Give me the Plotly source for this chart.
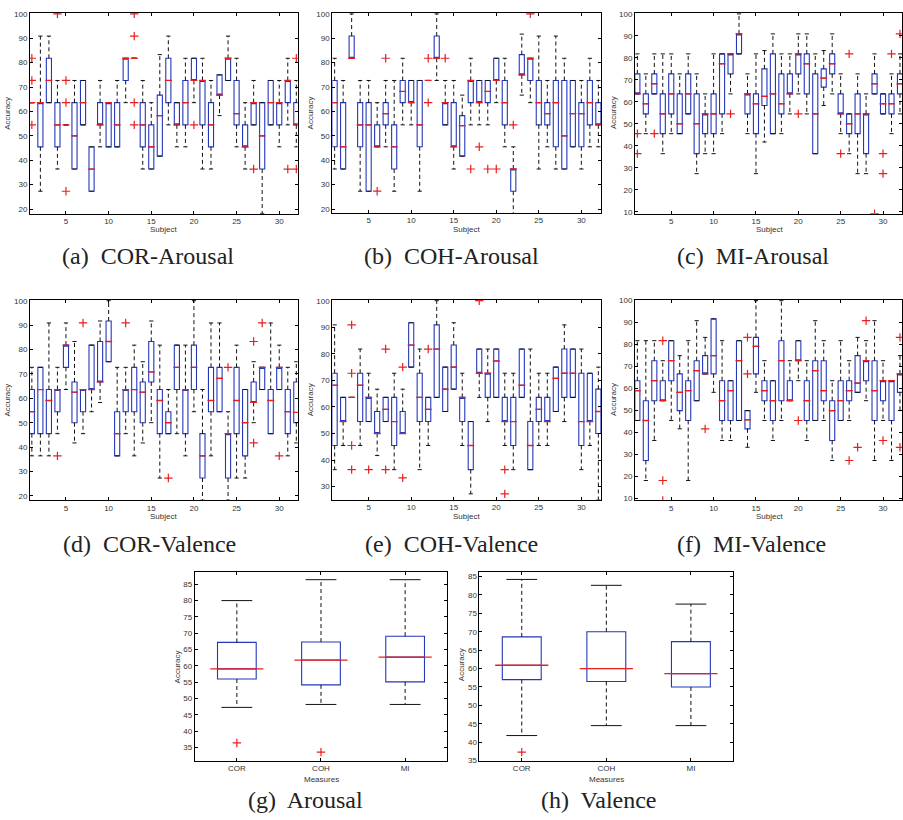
import plotly.graph_objects as go

subjects = list(range(1, 33))
measures = ["COR", "COH", "MI"]

# (a) COR-Arousal
a_q1 = [63.6,45.5,63.6,45.5,54.5,36.4,54.5,27.3,54.5,45.5,45.5,72.7,81.8,45.5,36.4,41.7,63.6,54.5,54.5,72.7,54.5,45.5,66.7,72.7,54.5,45.5,54.5,36.4,54.5,54.5,63.6,54.5]
a_med = [63.6,63.6,72.7,54.5,54.5,50,63.6,36.4,54.5,63.6,54.5,81.8,81.8,54.5,45.5,58.3,72.7,54.5,63.6,72.7,72.7,54.5,66.7,81.8,59.1,45.5,63.6,50,63.6,63.6,72.7,54.5]
a_q3 = [63.6,63.6,81.8,63.6,54.5,63.6,72.7,45.5,63.6,63.6,63.6,81.8,81.8,63.6,54.5,66.7,81.8,63.6,72.7,81.8,72.7,63.6,75,81.8,72.7,54.5,63.6,63.6,72.7,63.6,72.7,63.6]
a_lo = [63.6,27.3,63.6,36.4,54.5,36.4,54.5,27.3,45.5,45.5,45.5,63.6,81.8,36.4,36.4,41.7,54.5,45.5,45.5,63.6,36.4,36.4,58.3,72.7,45.5,36.4,54.5,18.2,54.5,45.5,54.5,45.5]
a_hi = [63.6,90.9,90.9,72.7,54.5,72.7,72.7,45.5,72.7,63.6,72.7,81.8,81.8,72.7,63.6,83.3,90.9,63.6,81.8,81.8,81.8,72.7,75,90.9,81.8,63.6,72.7,63.6,72.7,72.7,81.8,72.7]
a_out_x = [1,1,1,4,5,5,5,13,13,13,13,20,27,31,32,32]
a_out_y = [81.8,72.7,54.5,100,72.7,63.6,27.3,100,90.9,63.6,54.5,54.5,36.4,36.4,81.8,36.4]

# (b) COH-Arousal
b_q1 = [45.5,36.4,81.8,45.5,27.3,45.5,54.5,36.4,63.6,63.6,45.5,72.7,81.8,54.5,45.5,41.7,63.6,63.6,63.6,72.7,54.5,27.3,75,72.7,54.5,54.5,45.5,36.4,45.5,45.5,54.5,54.5]
b_med = [63.6,45.5,81.8,54.5,54.5,45.5,59.1,45.5,68.2,63.6,54.5,72.7,81.8,63.6,45.5,54.2,72.7,63.6,68.2,72.7,63.6,36.4,75,81.8,63.6,59.1,63.6,50,59.1,59.1,63.6,54.5]
b_q3 = [72.7,63.6,90.9,63.6,63.6,54.5,63.6,54.5,72.7,72.7,72.7,72.7,90.9,63.6,63.6,58.3,72.7,72.7,72.7,81.8,72.7,36.4,83.3,81.8,72.7,63.6,72.7,72.7,72.7,63.6,72.7,63.6]
b_lo = [36.4,36.4,81.8,27.3,27.3,45.5,45.5,27.3,54.5,54.5,27.3,72.7,72.7,54.5,36.4,41.7,54.5,54.5,54.5,63.6,45.5,18.2,66.7,63.6,36.4,45.5,36.4,36.4,45.5,36.4,45.5,45.5]
b_hi = [81.8,72.7,100,72.7,72.7,63.6,72.7,72.7,81.8,72.7,72.7,72.7,100,72.7,72.7,66.7,81.8,72.7,72.7,81.8,81.8,45.5,91.7,81.8,90.9,72.7,90.9,81.8,72.7,72.7,81.8,72.7]
b_out_x = [6,7,12,12,14,17,18,19,20,22,24]
b_out_y = [27.3,81.8,81.8,63.6,81.8,36.4,45.5,36.4,36.4,54.5,100]

# (c) MI-Arousal
c_q1 = [63.6,54.5,63.6,45.5,54.5,45.5,54.5,36.4,45.5,45.5,54.5,72.7,81.8,54.5,45.5,58.3,45.5,54.5,63.6,72.7,63.6,36.4,66.7,72.7,54.5,45.5,45.5,36.4,63.6,54.5,54.5,63.6]
c_med = [63.6,59.1,68.2,54.5,63.6,50,63.6,50,54.5,54.5,77.3,81.8,90.9,63.6,59.1,62.5,63.6,59.1,63.6,81.8,77.3,54.5,70.8,77.3,54.5,50,54.5,54.5,68.2,59.1,59.1,68.2]
c_q3 = [72.7,63.6,72.7,63.6,72.7,63.6,72.7,63.6,54.5,63.6,81.8,81.8,90.9,63.6,63.6,75,81.8,72.7,72.7,81.8,81.8,72.7,75,81.8,63.6,54.5,63.6,54.5,72.7,63.6,63.6,72.7]
c_lo = [63.6,45.5,63.6,36.4,45.5,45.5,54.5,27.3,36.4,36.4,45.5,63.6,81.8,45.5,27.3,41.7,45.5,45.5,54.5,63.6,54.5,36.4,58.3,63.6,45.5,36.4,27.3,27.3,63.6,54.5,45.5,54.5]
c_hi = [81.8,72.7,81.8,81.8,81.8,72.7,81.8,72.7,63.6,81.8,81.8,81.8,100,72.7,81.8,83.3,90.9,81.8,81.8,90.9,90.9,81.8,83.3,90.9,72.7,54.5,72.7,63.6,81.8,63.6,72.7,81.8]
c_out_x = [1,1,3,12,20,25,26,29,30,30,31,32]
c_out_y = [45.5,36.4,45.5,54.5,54.5,36.4,81.8,9.1,36.4,27.3,81.8,90.9]

# (d) COR-Valence
d_q1 = [45.5,45.5,45.5,54.5,72.7,50,54.5,63.6,66.7,75,36.4,54.5,54.5,50,66.7,45.5,45.5,63.6,45.5,63.6,27.3,54.5,54.5,27.3,45.5,36.4,58.3,63.6,45.5,63.6,45.5,50]
d_med = [54.5,63.6,59.1,63.6,81.8,62.5,63.6,63.6,66.7,83.3,45.5,63.6,63.6,62.5,70.8,59.1,50,72.7,63.6,72.7,36.4,59.1,68.2,45.5,59.1,50,58.3,72.7,59.1,72.7,54.5,54.2]
d_q3 = [63.6,72.7,63.6,63.6,81.8,66.7,63.6,81.8,83.3,91.7,54.5,63.6,72.7,66.7,83.3,63.6,54.5,81.8,63.6,81.8,45.5,72.7,72.7,45.5,72.7,63.6,66.7,72.7,63.6,72.7,63.6,66.7]
d_lo = [36.4,36.4,36.4,45.5,63.6,41.7,45.5,54.5,58.3,75,36.4,45.5,36.4,41.7,50,27.3,45.5,45.5,36.4,54.5,18.2,36.4,54.5,18.2,27.3,27.3,50,63.6,45.5,63.6,36.4,41.7]
d_hi = [72.7,72.7,90.9,72.7,90.9,83.3,63.6,81.8,91.7,100,72.7,72.7,81.8,75,91.7,81.8,63.6,81.8,81.8,100,63.6,90.9,90.9,54.5,81.8,63.6,75,72.7,90.9,81.8,72.7,75]
d_out_x = [4,7,12,17,24,27,27,28,30]
d_out_y = [36.4,90.9,90.9,27.3,72.7,83.3,41.7,90.9,36.4]

# (e) COH-Valence
e_q1 = [45.5,54.5,63.6,54.5,54.5,50,54.5,45.5,50,75,54.5,54.5,63.6,58.3,66.7,54.5,36.4,72.7,63.6,63.6,54.5,45.5,63.6,36.4,54.5,54.5,58.3,63.6,63.6,45.5,54.5,50]
e_med = [68.2,54.5,63.6,68.2,63.6,50,59.1,54.5,50,83.3,63.6,59.1,81.8,66.7,75,63.6,45.5,72.7,72.7,77.3,54.5,54.5,68.2,45.5,59.1,54.5,70.8,72.7,72.7,54.5,54.5,58.3]
e_q3 = [72.7,63.6,63.6,72.7,63.6,58.3,63.6,63.6,58.3,91.7,72.7,63.6,90.9,75,83.3,63.6,54.5,81.8,72.7,81.8,63.6,63.6,81.8,54.5,63.6,63.6,75,81.8,81.8,72.7,72.7,66.7]
e_lo = [36.4,45.5,63.6,45.5,54.5,41.7,54.5,36.4,50,75,36.4,45.5,63.6,58.3,66.7,45.5,27.3,63.6,54.5,63.6,45.5,36.4,63.6,36.4,45.5,45.5,58.3,54.5,63.6,36.4,45.5,25]
e_hi = [90.9,63.6,63.6,81.8,72.7,66.7,63.6,72.7,66.7,91.7,81.8,63.6,100,75,91.7,72.7,54.5,81.8,81.8,81.8,72.7,72.7,81.8,81.8,72.7,72.7,75,90.9,81.8,81.8,72.7,75]
e_out_x = [3,3,3,3,5,7,7,9,9,12,18,21,21]
e_out_y = [90.9,72.7,45.5,36.4,36.4,81.8,36.4,75,33.3,81.8,100,36.4,27.3]

# (f) MI-Valence
f_q1 = [45.5,27.3,54.5,54.5,63.6,50,45.5,54.5,66.7,66.7,45.5,45.5,45.5,41.7,66.7,54.5,45.5,54.5,54.5,72.7,45.5,45.5,54.5,36.4,45.5,54.5,58.3,63.6,45.5,54.5,45.5,58.3]
f_med = [59.1,45.5,63.6,54.5,72.7,58.3,59.1,68.2,66.7,75,54.5,59.1,72.7,45.8,79.2,59.1,54.5,72.7,54.5,72.7,54.5,68.2,59.1,50,54.5,59.1,62.5,72.7,59.1,63.6,63.6,66.7]
f_q3 = [63.6,54.5,72.7,63.6,81.8,66.7,63.6,72.7,75,91.7,63.6,63.6,81.8,50,83.3,63.6,63.6,81.8,63.6,81.8,63.6,72.7,72.7,54.5,63.6,63.6,75,72.7,72.7,63.6,63.6,66.7]
f_lo = [45.5,18.2,36.4,54.5,45.5,41.7,18.2,54.5,66.7,58.3,36.4,36.4,45.5,33.3,58.3,45.5,36.4,45.5,54.5,63.6,36.4,45.5,45.5,27.3,45.5,45.5,58.3,54.5,27.3,45.5,27.3,50]
f_hi = [81.8,81.8,81.8,72.7,81.8,75,81.8,90.9,83.3,91.7,81.8,63.6,81.8,50,100,72.7,63.6,100,72.7,81.8,72.7,90.9,81.8,63.6,81.8,72.7,83.3,81.8,90.9,72.7,63.6,75]
f_out_x = [4,4,4,9,14,14,20,26,27,28,30,32,32]
f_out_y = [81.8,18.2,9.1,41.7,83.3,66.7,45.5,27.3,33.3,90.9,36.4,83.3,33.3]

# (g) Arousal
g_q1 = [56.0, 54.2, 55.1]
g_med = [59.1, 61.8, 62.7]
g_q3 = [67.2, 67.3, 69.1]
g_lo = [47.3, 48.2, 48.2]
g_hi = [80.0, 86.4, 86.4]
g_out_x = ["COR", "COH"]
g_out_y = [36.4, 33.6]

# (h) Valence
h_q1 = [57.0, 56.5, 55.0]
h_med = [60.9, 60.0, 58.6]
h_q3 = [68.6, 70.0, 67.3]
h_lo = [41.8, 44.5, 44.5]
h_hi = [84.2, 82.6, 77.5]
h_out_x = ["COR"]
h_out_y = [37.3]

W, H = 903, 820
BLUE = "rgb(35,55,185)"
RED = "rgb(235,30,30)"
TICKC = "#333333"
NB = "\u00a0"

panels = [
    dict(x=subjects, q1=a_q1, med=a_med, q3=a_q3, lo=a_lo, hi=a_hi, ox=a_out_x, oy=a_out_y,
         px=(30, 298), py=(9, 212), xr=[0.78, 32.16], yr=[18.1, 100.4], dt=10, small=True,
         cap="(a)" + NB + " COR-Arousal", capxy=(148, 255), ylab=(8, 110), xlab=(164, 228), xt="Subject"),
    dict(x=subjects, q1=b_q1, med=b_med, q3=b_q3, lo=b_lo, hi=b_hi, ox=b_out_x, oy=b_out_y,
         px=(332.7, 602), py=(9, 211), xr=[0.73, 32.35], yr=[18.5, 100.4], dt=10, small=True,
         cap="(b)" + NB + " COH-Arousal", capxy=(452, 255), ylab=(311, 110), xlab=(467, 228), xt="Subject"),
    dict(x=subjects, q1=c_q1, med=c_med, q3=c_q3, lo=c_lo, hi=c_hi, ox=c_out_x, oy=c_out_y,
         px=(635.7, 903), py=(9, 212), xr=[0.72, 32.24], yr=[9.1, 100.45], dt=10, small=True,
         cap="(c)" + NB + " MI-Arousal", capxy=(754, 255), ylab=(614, 110), xlab=(770, 228), xt="Subject"),
    dict(x=subjects, q1=d_q1, med=d_med, q3=d_q3, lo=d_lo, hi=d_hi, ox=d_out_x, oy=d_out_y,
         px=(30, 298), py=(299.3, 502), xr=[0.78, 32.16], yr=[18.1, 100.3], dt=10, small=True,
         cap="(d)" + NB + " COR-Valence", capxy=(150, 546), ylab=(8, 400), xlab=(164, 518), xt="Subject"),
    dict(x=subjects, q1=e_q1, med=e_med, q3=e_q3, lo=e_lo, hi=e_hi, ox=e_out_x, oy=e_out_y,
         px=(332.7, 602), py=(299.3, 501.3), xr=[0.73, 32.35], yr=[25.05, 100.26], dt=10, small=True,
         cap="(e)" + NB + " COH-Valence", capxy=(452, 546), ylab=(311, 400), xlab=(467, 518), xt="Subject"),
    dict(x=subjects, q1=f_q1, med=f_med, q3=f_q3, lo=f_lo, hi=f_hi, ox=f_out_x, oy=f_out_y,
         px=(635.7, 903), py=(299.3, 502), xr=[0.72, 32.24], yr=[9.1, 100.3], dt=10, small=True,
         cap="(f)" + NB + " MI-Valence", capxy=(752, 546), ylab=(614, 400), xlab=(770, 518), xt="Subject"),
    dict(x=measures, q1=g_q1, med=g_med, q3=g_q3, lo=g_lo, hi=g_hi, ox=g_out_x, oy=g_out_y,
         px=(195, 447.7), py=(574, 765), xr=[-0.5, 2.5], yr=[31.0, 88.85], dt=5, small=False,
         cap="(g)" + NB + " Arousal", capxy=(306, 805), ylab=(178, 670), xlab=(322, 784), xt="Measures"),
    dict(x=measures, q1=h_q1, med=h_med, q3=h_q3, lo=h_lo, hi=h_hi, ox=h_out_x, oy=h_out_y,
         px=(480, 734), py=(574, 765), xr=[-0.5, 2.5], yr=[35.0, 86.3], dt=5, small=False,
         cap="(h)" + NB + " Valence", capxy=(600, 805), ylab=(462, 668), xlab=(607, 784), xt="Measures"),
]

fig = go.Figure()
annotations = []
layout = dict(width=W, height=H, margin=dict(l=0, r=0, t=0, b=0),
              paper_bgcolor="white", plot_bgcolor="white", showlegend=False,
              boxmode="overlay")

for i, p in enumerate(panels, start=1):
    xa = "x" if i == 1 else f"x{i}"
    ya = "y" if i == 1 else f"y{i}"
    bw = 0.6 if p["small"] else 0.46
    med_size = 5 if p["small"] else 38
    cap_size = 3 if p["small"] else 22

    # whiskers (dashed, black)
    wx, wy = [], []
    for xv, q1, q3, lo, hi in zip(p["x"], p["q1"], p["q3"], p["lo"], p["hi"]):
        wx += [xv, xv, None, xv, xv, None]
        wy += [q3, hi, None, q1, lo, None]
    fig.add_trace(go.Scatter(x=wx, y=wy, mode="lines", xaxis=xa, yaxis=ya,
                             line=dict(color="#111111", width=1, dash="4px,3px"),
                             hoverinfo="skip", connectgaps=False))
    # caps
    fig.add_trace(go.Scatter(x=list(p["x"]) + list(p["x"]), y=p["hi"] + p["lo"], mode="markers",
                             xaxis=xa, yaxis=ya, hoverinfo="skip",
                             marker=dict(symbol="line-ew", size=cap_size,
                                         line=dict(color="#111111", width=1))))
    # boxes
    fig.add_trace(go.Box(x=p["x"], q1=p["q1"], median=p["med"], q3=p["q3"],
                         lowerfence=p["q1"], upperfence=p["q3"], width=bw,
                         whiskerwidth=0, boxpoints=False, xaxis=xa, yaxis=ya,
                         line=dict(color=BLUE, width=1.1), fillcolor="rgba(0,0,0,0)",
                         hoverinfo="skip"))
    # medians
    fig.add_trace(go.Scatter(x=p["x"], y=p["med"], mode="markers", xaxis=xa, yaxis=ya,
                             hoverinfo="skip",
                             marker=dict(symbol="line-ew", size=med_size,
                                         line=dict(color=RED, width=1.3))))
    # outliers
    fig.add_trace(go.Scatter(x=p["ox"], y=p["oy"], mode="markers", xaxis=xa, yaxis=ya,
                             hoverinfo="skip",
                             marker=dict(symbol="cross-thin", size=6,
                                         line=dict(color=RED, width=1.2))))

    l, r = p["px"]
    t, b = p["py"]
    axcommon = dict(showline=True, linecolor="black", linewidth=1, mirror="ticks",
                    ticks="inside", ticklen=3, tickcolor="black", showgrid=False,
                    zeroline=False, tickfont=dict(family="Liberation Sans, Arial", size=8, color=TICKC))
    xdict = dict(axcommon, domain=[l / W, r / W], anchor=ya, range=p["xr"])
    if p["small"]:
        xdict.update(tickmode="array", tickvals=[5, 10, 15, 20, 25, 30])
    else:
        xdict.update(type="category", categoryorder="array", categoryarray=measures)
    ydict = dict(axcommon, domain=[1 - b / H, 1 - t / H], anchor=xa, range=p["yr"], dtick=p["dt"])
    layout["xaxis" if i == 1 else f"xaxis{i}"] = xdict
    layout["yaxis" if i == 1 else f"yaxis{i}"] = ydict

    annotations.append(dict(text=p["cap"], x=p["capxy"][0] / W, y=1 - p["capxy"][1] / H,
                            xref="paper", yref="paper", showarrow=False,
                            xanchor="center", yanchor="middle",
                            font=dict(family="Liberation Serif, DejaVu Serif", size=24, color="#222")))
    annotations.append(dict(text="Accuracy", x=p["ylab"][0] / W, y=1 - p["ylab"][1] / H,
                            xref="paper", yref="paper", showarrow=False, textangle=-90,
                            xanchor="center", yanchor="middle",
                            font=dict(family="Liberation Sans, Arial", size=8, color=TICKC)))
    annotations.append(dict(text=p["xt"], x=p["xlab"][0] / W, y=1 - p["xlab"][1] / H,
                            xref="paper", yref="paper", showarrow=False,
                            xanchor="center", yanchor="middle",
                            font=dict(family="Liberation Sans, Arial", size=8, color=TICKC)))

layout["annotations"] = annotations
fig.update_layout(**layout)
fig.write_html("out.html", config={"displayModeBar": False},
               post_script="document.body.style.margin='0px';")
